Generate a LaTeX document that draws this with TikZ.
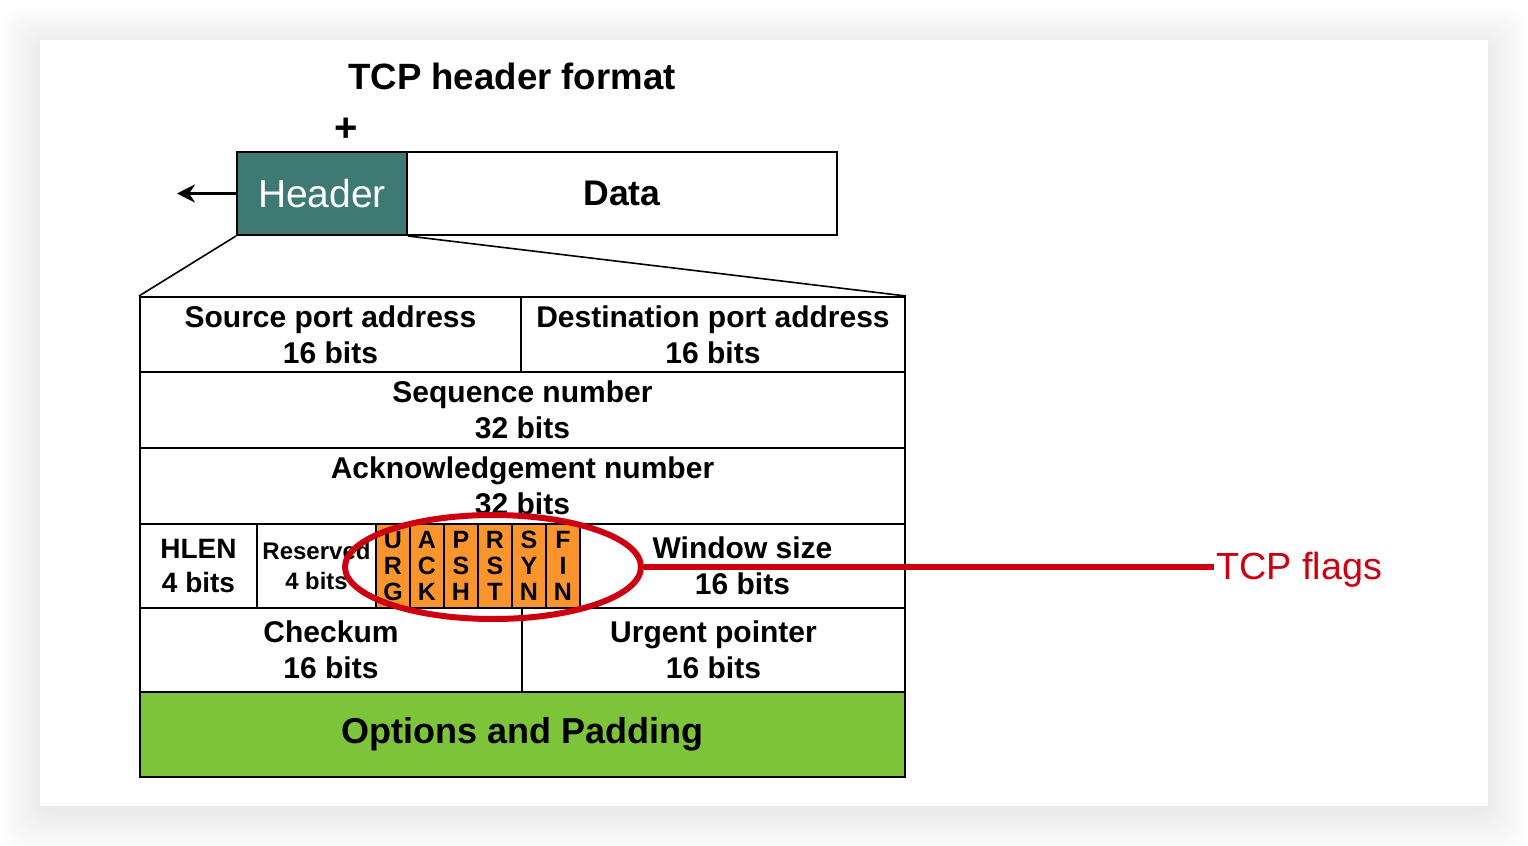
\documentclass[tikz,border=0pt]{standalone}
\usepackage{fontspec}
\setmainfont{Liberation Sans}
\usetikzlibrary{arrows.meta,shapes.geometric}
\definecolor{hdrteal}{RGB}{62,122,115}
\definecolor{flagorange}{RGB}{250,148,45}
\definecolor{optgreen}{RGB}{125,196,58}
\definecolor{markred}{RGB}{204,0,17}

\begin{document}
\begin{tikzpicture}[
  x=0.5pt, y=-0.5pt,
  cell/.style={rectangle, draw, line width=1pt, inner sep=0pt, align=center, font=\bfseries\fontsize{15}{18}\selectfont},
  flag/.style={cell, fill=flagorange, minimum width=17pt, minimum height=42pt, font=\bfseries\fontsize{12.5}{13}\selectfont},
  fan/.style={line width=0.8pt},
  ring/.style={ellipse, draw=markred, line width=3pt, minimum width=148pt, minimum height=52pt},
]

% Page and card
\useasboundingbox (0,0) rectangle (1528,846);
\foreach \s in {2,4,...,40}
  \fill[black, opacity=0.004, rounded corners=10pt] (40-\s,40-\s+6) rectangle (1488+\s,806+\s+6);
\fill[white] (40,40) rectangle (1488,806);

% Title
\node[font=\bfseries\fontsize{18.3}{20}\selectfont] (title) at (512,76) {TCP header format};
\node[font=\bfseries\fontsize{20}{20}\selectfont] (plus) at (346,130) {+};

% Segment
\node[draw, line width=1pt, fill=hdrteal, inner sep=0pt, minimum width=85pt, minimum height=41.5pt, text=white, font=\fontsize{19.5}{20}\selectfont] (hdr) at (322,193.5) {Header};
\node[draw, line width=1pt, inner sep=0pt, minimum width=215pt, minimum height=41.5pt, font=\bfseries\fontsize{17.8}{20}\selectfont] (data) at (622,193.5) {Data};
\coordinate (out) at (177,193.5);
\draw[-{Stealth[length=9pt,width=9pt]}, line width=1.5pt] (hdr.west) -- (out);

% Header fields
\node[cell, minimum width=190.5pt, minimum height=37.5pt] (src) at (330.5,334.5) {Source port address\\16 bits};
\node[cell, minimum width=192pt, minimum height=37.5pt] (dst) at (713,334.5) {Destination port address\\16 bits};
\node[cell, minimum width=382.5pt, minimum height=38pt] (seq) at (522.5,410) {Sequence number\\32 bits};
\node[cell, minimum width=382.5pt, minimum height=38pt] (ack) at (522.5,486) {Acknowledgement number\\32 bits};
\node[cell, minimum width=58.5pt, minimum height=42pt, font=\bfseries\fontsize{14}{17}\selectfont] (hlen) at (198.5,566) {HLEN\\4 bits};
\node[cell, minimum width=59.5pt, minimum height=42pt, font=\bfseries\fontsize{12}{15}\selectfont] (rsv) at (316.5,566) {Reserved\\\fontsize{11.9}{15}\selectfont 4 bits};
\foreach \a/\b/\c [count=\i from 0] in {U/R/G, A/C/K, P/S/H, R/S/T, S/Y/N, F/I/N}
  \node[flag] (f\i) at ({393+34*\i},566) {\a\\\b\\\c};
\node[cell, minimum width=162.5pt, minimum height=42pt] (win) at (742.5,566) {Window size\\16 bits};
\node[cell, minimum width=191pt, minimum height=42pt] (chk) at (331,650) {Checkum\\16 bits};
\node[cell, minimum width=191.5pt, minimum height=42pt] (urg) at (713.5,650) {Urgent pointer\\16 bits};
\node[cell, fill=optgreen, minimum width=382.5pt, minimum height=42.5pt, font=\bfseries\fontsize{18}{20}\selectfont] (opt) at (522.5,734.5) {Options and Padding};

% Zoom lines
\draw[fan] (hdr.south west) -- (src.north west);
\draw[fan] (hdr.south east) -- (dst.north east);

% Flags callout
\node[ring] (flagring) at (493,567) {};
\node[text=markred, anchor=west, inner sep=1pt, font=\fontsize{18.9}{20}\selectfont] (flaglbl) at (1214,570) {TCP flags};
\draw[markred, line width=3pt] (flagring.east) -- (flagring.east -| flaglbl.west);

\end{tikzpicture}
\end{document}
